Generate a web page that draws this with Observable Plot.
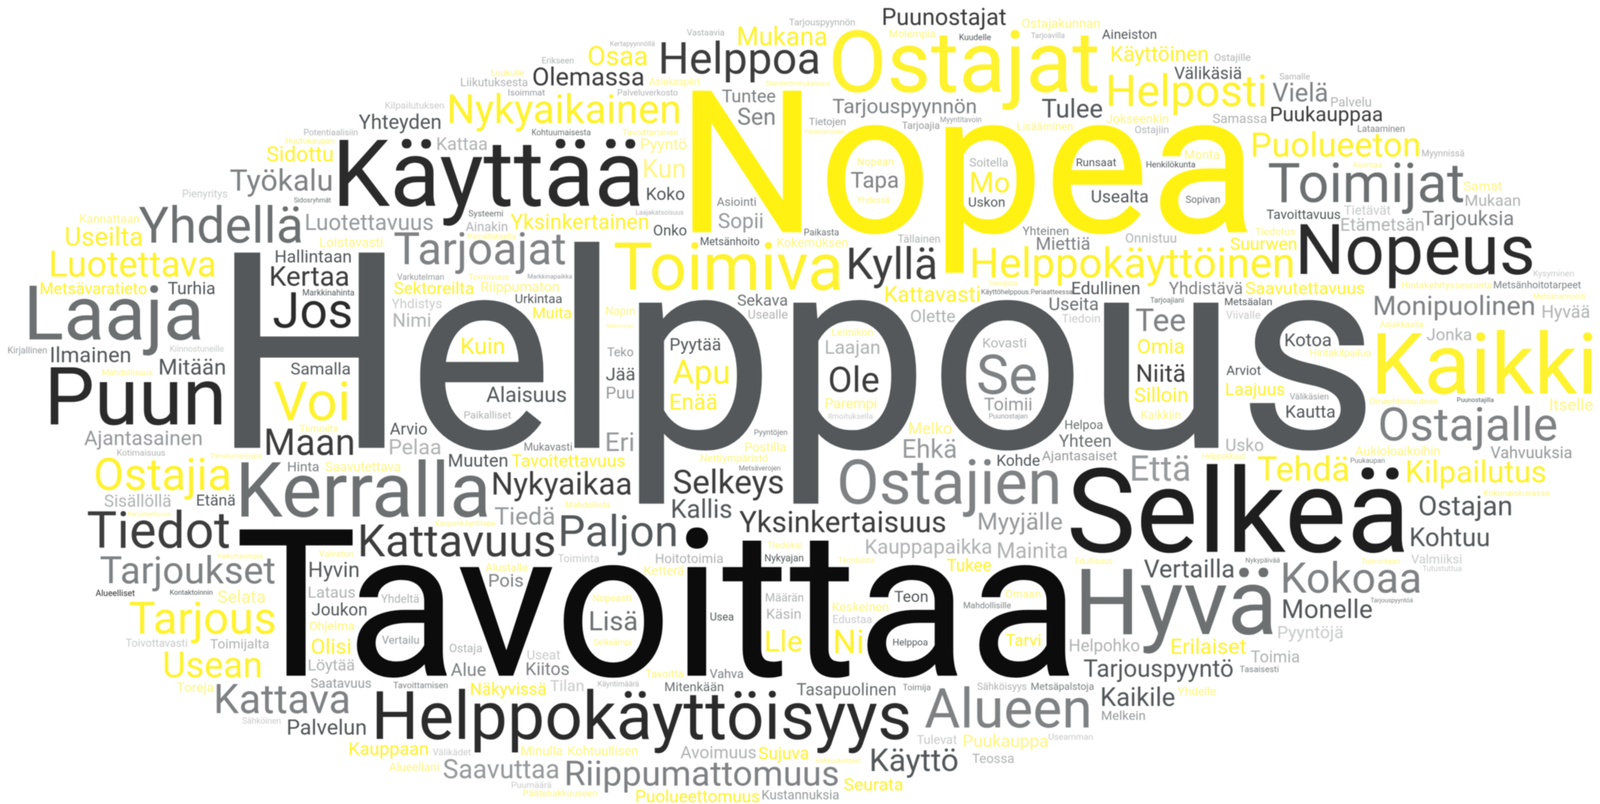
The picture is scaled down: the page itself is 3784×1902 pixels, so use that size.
<!DOCTYPE html>
<html lang="fi">
<head>
<meta charset="utf-8">
<title>Sanapilvi</title>
<script src="https://cdn.jsdelivr.net/npm/d3@7"></script>
<script src="https://cdn.jsdelivr.net/npm/@observablehq/plot@0.6"></script>
<style>
html,body{margin:0;padding:0;background:#fff}
svg{display:block}
</style>
</head>
<body>
<div id="chart"></div>
<script>
// Each entry: word, left extent, right extent, baseline in picture units.
const inkBlack = [["Tavoittaa",564,2528,1598]];
const inkDeep = [["Selkeä",2531,3320,1305]];
const inkDark = [
["Käyttää",802,1512,486],["Nopeus",3075,3623,647],["Puun",119,523,1003],["Helppokäyttöisyys",890,2149,1747],
["Jos",647,829,774],["Alueelliset",226,318,1409]];
const inkHeavy = [
["Helppoa",1564,1935,173],["Olemassa",1261,1521,201],["Tiedot",207,541,1295],["Kyllä",2008,2212,659],
["Puunostajat",2089,2378,58],["Kattavuus",853,1310,1315],["Kertaa",641,823,675],["Nykyaikaa",1167,1491,1169],
["Selkeys",1593,1851,1166],["Yksinkertaisuus",1748,2235,1258],["Ole",1962,2077,926],["Niitä",2690,2801,902],
["Maan",630,834,1075],["Puukauppaa",3006,3268,286]];
const inkSlate = [
["Helppous",552,3231,1059],["Yhteyden",848,1041,304],["Hallintaan",652,829,620],["Ilmainen",121,307,856],
["Mitään",378,531,885],["Turhia",397,507,695],["Koko",1530,1618,472],["Aineiston",2606,2734,91],["Tulee",2464,2606,277],
["Välikäsiä",2777,2935,186],["Alaisuus",1150,1338,950],["Jää",1433,1500,899],["Pyytää",1586,1703,828],
["Kallis",1590,1729,1224],["Paljon",1327,1597,1291],["Edullinen",2536,2694,695],["Kotoa",3040,3147,818],
["Kautta",3042,3156,987],["Puunostajilla",3446,3532,950],["Ostajan",3357,3573,1218],["Kohtuu",3337,3520,1291],
["Vertailla",2705,2917,1365],["Monelle",3035,3244,1461],["Tarjouspyyntö",2563,2915,1600],["Joukon",737,866,1455],
["Palvelun",681,864,1737],["Teon",2115,2193,1423],["Helppoa",2112,2193,1526],["Kaikile",2606,2777,1669],
["Käyttö",2061,2264,1823],["Samalla",688,827,885],["Arvio",922,1009,1027],["Muuten",1062,1199,1103],
["Urkintaa",1219,1328,716],["Hyvin",732,847,1364],["Usealta",2582,2714,478],["Uskon",2291,2375,488],
["Runsaat",2546,2639,392],["Kuudelle",2269,2343,94],["Henkilökunta",2711,2826,395],["Arviot",2900,2981,886],
["Metsäalan",2897,3007,721],["Tavoittavuus",2995,3169,517],["Kohde",2359,2458,1101],["Onko",1546,1623,556],
["Markkinahinta",716,837,698],["Metsänhoito",1657,1795,579],["Etänä",466,555,1195],["Usea",1680,1734,1467],
["Nykyajan",1809,1899,1327],["Kontaktoinnin",402,502,1406]];
const inkMid = [
["Hyvä",2557,3009,1499],["Kerralla",570,1151,1221],["Laaja",69,473,802],["Yhdellä",328,711,573],
["Toimijat",3000,3460,477],["Sekava",1744,1861,722],["Useita",2482,2596,733],["Yhteen",2504,2626,1056],
["Helpoa",2519,2607,1014],["Tarjoajiani",2720,2799,715],["Mitenkään",1573,1710,1634],["Tasapuolinen",1884,2117,1644],
["Lisä",1396,1505,1490],["Sopivan",2804,2884,479],["Sidosryhmät",695,782,478],["Kohtuumaisesta",1258,1396,319],
["Systeemi",1108,1189,511],["Paikasta",1902,1983,556],["Käyttöhelppous.Periaatteessa",2321,2536,695]];
const inkGray = [
["Tarjoajat",932,1336,624],["Työkalu",544,783,450],["Ostajien",1986,2501,1191],["Ostajalle",3264,3680,1041],
["Kokoaa",3035,3357,1401],["Alueen",2187,2574,1720],["Kattava",512,824,1686],["Tarjoukset",237,649,1379],
["Riippumattomuus",1340,1981,1857],["Se",2313,2449,931],["Tee",2686,2802,782],["Tarjouksia",3364,3578,532],
["Monipuolinen",3251,3627,744],["Tarjouspyynnön",1969,2307,267],["Tapa",2012,2123,443],["Miettiä",2452,2576,590],
["Vielä",3009,3138,239],["Tuntee",1707,1833,241],["Sen",1745,1831,294],["Asiointi",1695,1787,486],
["Yhdistävä",2764,2937,695],["Yhteinen",2418,2526,555],["Lataaminen",3211,3321,311],["Hinta",681,753,1114],
["Mukavasti",1240,1352,1065],["Pyyntöjen",1784,1861,1028],["Puukaupan",3194,3274,1094],["Metsänhoitotarpeet",3533,3738,681],
["Tarjouspyyntöä",3241,3341,1424],["Nykypäivää",2946,3026,1330],["Tasaisesti",2932,3023,1589],["Toimija",2135,2200,1632],
["Metsäpalstoja",2439,2586,1631],["Mahdollisille",2279,2390,1438],["Tavoittamisen",930,1058,1627],["Alue",1066,1148,1598],
["Kiitos",1245,1345,1596],["Vahva",1678,1757,1603],["Metsäverojen",1748,1845,1112],["Pois",1157,1236,1387]];
const inkSoft = [
["Luotettavuus",724,1023,543],["Sopii",1699,1803,539],["Tiedä",1170,1310,1240],["Eri",1435,1497,1066],["Puu",1435,1498,942],
["Teko",1436,1497,842],["Että",2677,2812,1136],["Ehkä",2137,2260,1082],["Myyjälle",2315,2511,1252],["Saavuttaa",1049,1320,1840],
["Ajantasainen",199,476,1052],["Vahvuuksia",3525,3716,1083],["Kirjallinen",19,110,835],["Tarjoajia",2133,2221,304],
["Tietojen",1913,1999,295],["Myyntitavoin",2224,2320,288],["Isoimmat",1202,1288,225],["Toimii",2327,2439,970],
["Puunostajan",2339,2429,989],["Ajantasaiset",2464,2641,1088],["Välikäsien",3050,3141,944],["Vertailu",903,990,1522],
["Saatavuus",735,877,1626],["Melkein",2606,2707,1702],["Kustannuksia",1803,1983,1890],["Markkinapaikka",1248,1352,658],
["Varkutelman",939,1049,661]];
const inkPale = [
["Kattaa",1034,1151,354],["Liikutuksesta",1090,1247,203],["Potentiaalisiin",719,845,319],["Tarjouspyynnön",1866,2021,59],
["Kertapyynnöllä",1443,1548,108],["Vastaavia",1624,1712,83],["Erikseen",1282,1356,149],["Palveluverkosto",1461,1602,225],
["Laajakatsoisuus",1504,1616,507],["Ainakin",1101,1199,546],["Tarjoavilla",2438,2517,89],["Ostajille",2872,2957,143],
["Ostajiin",2684,2763,314],["Samassa",2868,2995,290],["Samalle",3026,3097,187],["Palvelu",3148,3242,251],
["Soitella",2293,2383,393],["Tällainen",2123,2222,573],["Onnistuu",2662,2781,573],["Myynnissä",3363,3462,369],
["Mukaan",3466,3594,486],["Etämetsän",3172,3366,545],["Nimi",931,1017,772],["Pelaa",922,1041,1074],["Kotimaisuus",277,390,1077],
["Sisällöllä",247,403,1198],["Paikalliset",1098,1208,989],["Usealle",1770,1862,753],["Olette",2154,2258,761],
["Laajan",1953,2079,836],["Kovasti",2325,2426,821],["Hyvää",3648,3758,751],["Jonka",3374,3479,804],["Usko",2900,2987,1066],
["Kauppapaikka",2048,2344,1309],["Mainita",2360,2523,1319],["Lataus",730,839,1413],["Yhdeltä",901,990,1425],
["Toimijalta",497,635,1533],["Löytää",730,837,1585],["Ostaja",1063,1139,1542],["Määrän",1811,1899,1422],["Käsin",1814,1893,1463],
["Hoitotoimia",1551,1709,1331],["Avoimuus",1609,1787,1793],["Helpohko",2530,2694,1540],["Sähköisyys",2311,2427,1631],
["Teossa",2299,2397,1804],["Käyntimäärä",1414,1510,1623],["Toimia",2958,3072,1566]];
const inkFaint = [
["Kilpailutuksen",911,1049,256],["Pienyritys",432,537,466],["Tietävät",3178,3288,507],["Kiinnostuneille",402,529,831],
["Yhdistys",926,1044,728],["Tiedoin",2511,2601,762],["Ilmoituksella",1959,2063,990],["Viivalle",2899,2980,753],
["Kysyminen",3627,3721,653],["Valmiiksi",3337,3456,1332],["Tutustuttua",3364,3456,1350],["Pyyntöjä",3023,3175,1509],
["Toivottavasti",297,442,1529],["Sähköinen",573,663,1711],["Toiminta",1319,1416,1329],["Useat",1247,1324,1559],
["Tilan",1301,1379,1634],["Välikädet",1023,1113,1786],["Puumäärä",1210,1303,1863],["Edustaa",1970,2061,1473],
["Tulevat",2168,2262,1759],["Useamman",2480,2584,1749]];
const yellowFull = [["Nopea",1636,2949,549]];
const yellowStrong = [
["Ostajat",1969,2595,216],["Toimiva",1453,1986,684],["Kaikki",3257,3766,930],["Nykyaikainen",1063,1605,290],
["Helposti",2622,2991,250],["Mukana",1746,1954,106],["Osaa",1392,1529,153],["Puolueeton",2963,3355,369],
["Helppokäyttöinen",2300,3056,655],["Voi",647,821,993],["Luotettava",121,507,653],["Ostajia",226,542,1158],
["Tarjous",306,649,1498],["Usean",389,615,1601],["Apu",1591,1722,906],["Enää",1586,1694,968],["Mo",2297,2386,454],
["Kattavasti",2094,2316,713],["Tehdä",2974,3188,1136],["Kilpailutus",3328,3654,1140],["Saavutettavuus",2946,3226,695],
["Tavoitettavuus",1210,1477,1103],["Useilta",156,335,580],["Sidottu",631,786,381],["Kuin",1092,1191,836],
["Muita",1261,1350,752],["Omia",2691,2799,835],["Silloin",2683,2807,950],["Olisi",737,828,1546],["Lle",1812,1895,1540],
["Ni",1975,2039,1544],["Erilaiset",2771,2946,1546],["Tarvi",2378,2460,1527],["Näkyvissä",1114,1290,1643],
["Sujuva",1794,1911,1795],["Seurata",1996,2134,1869],["Puolueettomuus",1505,1795,1897],["Sektoreilta",932,1119,695],
["Yksinkertainen",1207,1532,541],["Kauppaan",827,1011,1785],["Tukee",2239,2343,1350],["Suurwen",2910,3065,590],
["Laajuus",2900,3037,934],["Käyttöinen",2629,2855,144],["Metsävaratieto",96,346,695]];
const yellowPale = [
["Huutokaupan",675,790,339],["Kannattaan",189,328,526],["Loistavasti",757,904,583],["Luukulle",1162,1238,179],
["Asiakaspiiri",1535,1653,200],["Standardinmukaisuus",1811,1962,202],["Tavoittaminen",1472,1602,319],["Pyyntö",1516,1623,353],
["Kun",1523,1618,419],["Painalluksella",1106,1219,564],["Kokemuksen",1838,2004,583],["Pelastamisen",1903,1996,316],
["Ostajakunnan",2417,2600,65],["Molempia",2104,2211,87],["Lisääminen",2406,2536,307],["Jokseenkin",2616,2762,290],
["Monta",2802,2883,375],["Nopean",2028,2112,390],["Yhdessä",2026,2103,479],["Asemaa",3199,3268,395],["Samat",3461,3551,450],
["Tiedotus",2968,3062,555],["Mahdollisuus",242,360,887],["Tiimoilta",708,799,1021],["Palveluntarjoajia",499,617,1083],
["Saavutettava",769,946,1114],["Perusteellisuus",303,403,1220],["Toimivuus",1108,1203,661],["Riippumaton",1138,1321,689],
["Mahdollista",1338,1442,1200],["Kaupankäyntitapa",1030,1170,1243],["Napin",1433,1500,744],["Mainonnan",1435,1497,774],
["Postilla",1762,1858,1067],["Nettiympäristö",1657,1815,1091],["Toimijoita",2337,2406,675],["Leimikon",1968,2063,793],
["Parempi",1952,2072,965],["Kaikkiin",2699,2791,990],["Melko",2150,2250,1026],["Helppokkuus",2844,2944,1084],
["Hintakehitysseuranta",3315,3528,681],["Metsänarviointi",3627,3748,706],["Asiakkaalla",3263,3365,773],["Hintakilpailua",3099,3241,842],
["Omaehtoisuuteen",3239,3399,955],["Itselle",3666,3766,970],["Aukioloaikoihin",3205,3404,1076],["Kokonaiskuvassa",3509,3663,1172],
["Toimintaan",3219,3310,1333],["Yhdelle",2785,2875,1644],["Vaivaton",754,834,1316],["Vaikuttavimpia",513,621,1320],
["Selata",515,626,1425],["Ohjelma",732,837,1490],["Toreja",418,504,1636],["Alueellani",920,1037,1823],["Alustalle",1148,1247,1350],
["Ketterä",1524,1616,1359],["Tiedoksi",1814,1896,1296],["Nopeasti",1402,1492,1422],["Selkeämpi",1404,1492,1525],["Tavoitta",1527,1615,1602],
["Minulla",1233,1329,1786],["Kohtuullisen",1344,1507,1786],["Päätehakkuuseen",1237,1411,1883],["Tarjotuista",1982,2067,1330],
["Edullisuus",2543,2630,1333],["Omaan",2378,2460,1413],["Keskeinen",1969,2100,1445],["Puukauppa",2279,2477,1766],["Hakkuukohteet",1930,2034,1804]];

const toneGroups = [
  [inkFaint,"#c9caca"],[inkPale,"#b1b2b3"],[inkSoft,"#97999b"],[inkGray,"#7f8183"],[inkMid,"#6d7071"],
  [inkSlate,"#54585a"],[inkHeavy,"#3d3d3d"],[inkDark,"#2b2b2b"],[inkDeep,"#1e1e1e"],[inkBlack,"#0c0c0c"],
  [yellowPale,"#fff680"],[yellowStrong,"#fff22e"],[yellowFull,"#fff212"]
];

const ctx = document.createElement("canvas").getContext("2d");
const family = "Roboto";
ctx.font = `400 200px ${family}`;
function fit([word, x0, x1, y], tone) {
  const m = ctx.measureText(word);
  const ink = (m.actualBoundingBoxRight + m.actualBoundingBoxLeft) / 200;
  const size = (x1 - x0) / ink;
  return {word, x: x0 + m.actualBoundingBoxLeft / 200 * size, y, size, tone};
}
const table = toneGroups.flatMap(([g, tone]) => g.map(e => fit(e, tone)));

const chart = Plot.plot({
  width: 3784, height: 1902, margin: 0,
  style: {background: "#fff", filter: "blur(1px)"},
  x: {domain: [0, 3784], range: [0, 3784], axis: null},
  y: {domain: [0, 1902], range: [0, 1902], axis: null},
  color: {type: "identity"},
  marks: [
    Plot.text(table, {x: "x", y: "y", text: "word", fontSize: "size", fill: "tone",
      textAnchor: "start", lineAnchor: "bottom", fontFamily: family, fontWeight: 400})
  ]
});
document.getElementById("chart").append(chart);
</script>
</body>
</html>
